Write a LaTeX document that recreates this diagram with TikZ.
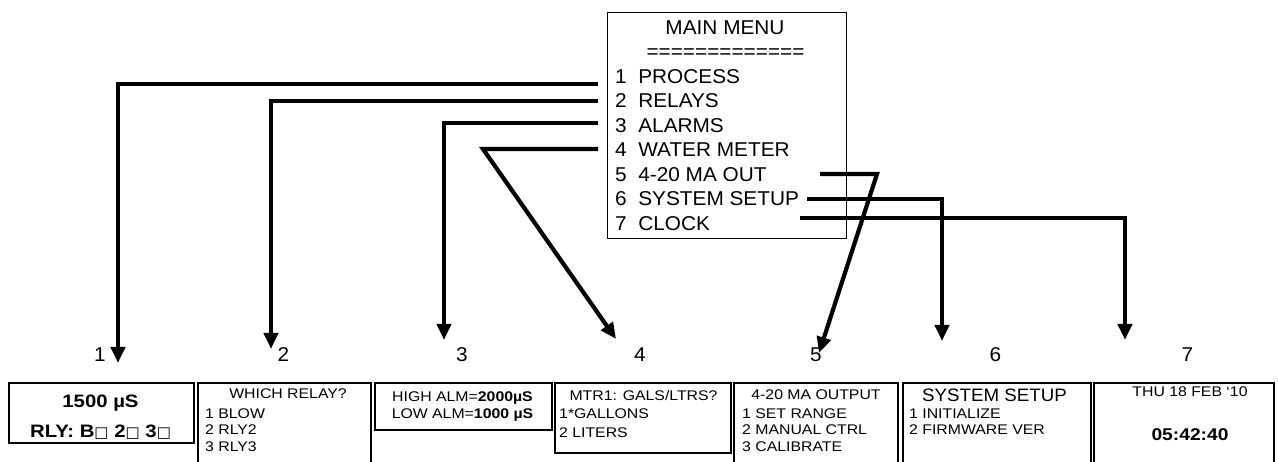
\documentclass[tikz,border=0pt]{standalone}
\usepackage{fontspec}
\setmainfont{Liberation Sans}
\newfontfamily\menufont{Liberation Sans}[FakeStretch=1.04]
\newfontfamily\lcdfont{Liberation Sans}[FakeStretch=1.13]
\newfontfamily\symfont{DejaVu Sans}
\usetikzlibrary{arrows.meta}
\newcommand{\offbox}{{\symfont\mdseries\fontsize{15}{15}\selectfont □}}
\tikzset{
  menubox/.style={draw, line width=1.2pt, inner sep=0pt, anchor=north west},
  scr/.style={draw, line width=1.6pt, inner sep=0pt, anchor=north west},
  mtxt/.style={font=\menufont\fontsize{20}{24}\selectfont, inner sep=0pt},
  ltxt/.style={font=\lcdfont\fontsize{14}{17}\selectfont, inner sep=0pt, anchor=base west},
  lhead/.style={ltxt, anchor=base},
  big/.style={font=\lcdfont\bfseries\fontsize{18}{22}\selectfont, inner sep=0pt, anchor=base},
  conn/.style={line width=4.2pt, -{Triangle[length=16pt,width=14pt]}},
}

\begin{document}
\begin{tikzpicture}[x=1pt, y=-1pt]
  \useasboundingbox (0,0) rectangle (1278,462);
  \clip (0,0) rectangle (1278,462);
  % main menu
  \node[menubox, minimum width=239pt, minimum height=226pt] (menu) at (607,12) {};
  \node[mtxt, anchor=base] (title) at (725,35) {MAIN MENU};
  \node[mtxt, anchor=base] (bar) at (725.5,59) {=============};
  \foreach \txt [count=\i] in {PROCESS, RELAYS, ALARMS, WATER METER, 4-20 MA OUT, SYSTEM SETUP, CLOCK}
    \node[mtxt, anchor=base west] (m\i) at (615,{83.3+24.5*(\i-1)}) {\i~~\txt};

  % screens
  \node[scr, minimum width=185pt, minimum height=60pt] (s1) at (8,382) {};
  \node[scr, minimum width=173pt, minimum height=100pt] (s2) at (197,382) {};
  \node[scr, minimum width=177pt, minimum height=47pt] (s3) at (374,382) {};
  \node[scr, minimum width=176pt, minimum height=70pt] (s4) at (554,382) {};
  \node[scr, minimum width=164pt, minimum height=100pt] (s5) at (733,382) {};
  \node[scr, minimum width=188pt, minimum height=100pt] (s6) at (902,382) {};
  \node[scr, minimum width=180pt, minimum height=100pt] (s7) at (1093,382) {};

  \node[big] (s1a) at (100.5,407) {1500 µS};
  \node[big] (s1b) at (100.5,437) {RLY: B\offbox{} 2\offbox{} 3\offbox};
  \node[lhead] (s2h) at (288,398.5) {WHICH RELAY?};
  \node[ltxt] (s2a) at (205,418) {1 BLOW};
  \node[ltxt] (s2b) at (205,434.5) {2 RLY2};
  \node[ltxt] (s2c) at (205,451) {3 RLY3};
  \node[lhead] (s3a) at (462.5,402) {HIGH ALM=\textbf{2000µS}};
  \node[lhead] (s3b) at (462.5,419) {LOW ALM=\textbf{1000 µS}};
  \node[lhead] (s4h) at (643.5,401) {MTR1: GALS/LTRS?};
  \node[ltxt] (s4a) at (559,419) {1*GALLONS};
  \node[ltxt] (s4b) at (559,437) {2 LITERS};
  \node[lhead] (s5h) at (816,399.5) {4-20 MA OUTPUT};
  \node[ltxt] (s5a) at (742,418) {1 SET RANGE};
  \node[ltxt] (s5b) at (742,435) {2 MANUAL CTRL};
  \node[ltxt] (s5c) at (742,451.5) {3 CALIBRATE};
  \node[mtxt, anchor=base, font=\menufont\fontsize{18}{22}\selectfont] (s6h) at (994.5,402) {SYSTEM SETUP};
  \node[ltxt] (s6a) at (909,418.5) {1 INITIALIZE};
  \node[ltxt] (s6b) at (909,435) {2 FIRMWARE VER};
  \node[lhead] (s7h) at (1190,397) {THU 18 FEB ‘10};
  \node[big, font=\lcdfont\bfseries\fontsize{17}{20}\selectfont] (s7a) at (1190,441) {05:42:40};

  % screen numbers
  \node[mtxt] (l1) at (100,355) {1};
  \node[mtxt] (l2) at (283.5,355) {2};
  \node[mtxt] (l3) at (462,355) {3};
  \node[mtxt] (l4) at (640,355) {4};
  \node[mtxt] (l5) at (816,355) {5};
  \node[mtxt] (l6) at (995.5,355) {6};
  \node[mtxt] (l7) at (1187.5,355) {7};

  % menu links
  \coordinate (a1) at (598,84);  \coordinate (t1) at (118,363);
  \coordinate (a2) at (598,101); \coordinate (t2) at (271,349);
  \coordinate (a3) at (598,123); \coordinate (t3) at (444,340);
  \coordinate (a4) at (598,149); \coordinate (k4) at (483,149); \coordinate (t4) at (616,339);
  \coordinate (a5) at (820,174); \coordinate (k5) at (877,174); \coordinate (t5) at (819,353);
  \coordinate (a6) at (807,199); \coordinate (t6) at (942,341);
  \coordinate (a7) at (800,218); \coordinate (t7) at (1125,340);
  \draw[conn] (a1) -| (t1);
  \draw[conn] (a2) -| (t2);
  \draw[conn] (a3) -| (t3);
  \draw[conn] (a4) -- (k4) -- (t4);
  \draw[conn] (a5) -- (k5) -- (t5);
  \draw[conn] (a6) -| (t6);
  \draw[conn] (a7) -| (t7);
\end{tikzpicture}
\end{document}
